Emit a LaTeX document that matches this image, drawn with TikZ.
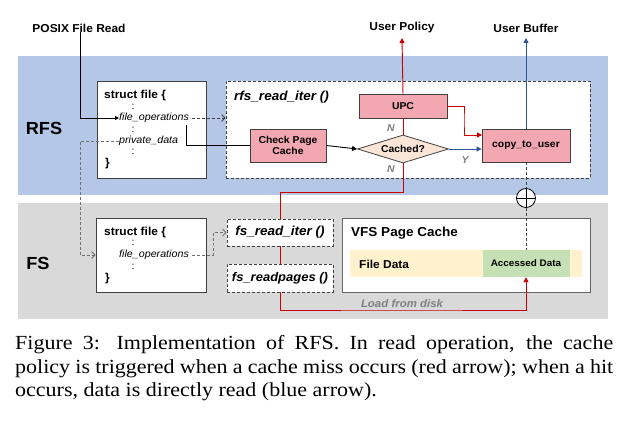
\documentclass[tikz,border=0pt]{standalone}
\usepackage{fontspec}
\setmainfont{Liberation Serif}
\newfontfamily\capfont[FakeStretch=1.1]{Liberation Serif}
\newfontfamily\arialfont[FakeStretch=1.04]{Liberation Sans}
\usetikzlibrary{shapes.geometric,arrows.meta}
\definecolor{rfsblue}{HTML}{B4C7E7}
\definecolor{fsgray}{HTML}{D9D9D9}
\definecolor{pinkbox}{HTML}{F2A7B1}
\definecolor{peach}{HTML}{FBE5D6}
\definecolor{redline}{HTML}{CC0000}
\definecolor{blueline}{HTML}{2F5597}
\definecolor{filedata}{HTML}{FFF2CC}
\definecolor{accgreen}{HTML}{C5E0B4}
\definecolor{lblgray}{HTML}{7F7F7F}
\definecolor{boxline}{HTML}{404040}
\newcommand{\fsz}[1]{\fontsize{#1}{#1}\selectfont}
\newcommand{\capsize}{\fontsize{20}{23.5}\selectfont}
\tikzset{
  band/.style={draw=none, inner sep=0, anchor=north west},
  txt/.style={inner sep=0, font=\arialfont\fsz{10}},
  btxt/.style={inner sep=0, font=\arialfont\bfseries\fsz{10}},
  structbox/.style={draw=boxline, line width=0.8pt, fill=white, inner sep=0},
  dashbox/.style={draw=boxline, line width=0.8pt, dashed, dash pattern=on 3pt off 2pt, fill=white, inner sep=0},
  pinkb/.style={draw=boxline, line width=0.8pt, fill=pinkbox, inner sep=0, align=center, font=\arialfont\bfseries\fsz{10}},
  redarr/.style={draw=redline, line width=0.95pt, -{Triangle[length=5pt,width=5pt]}},
  redln/.style={draw=redline, line width=0.95pt},
  bluearr/.style={draw=blueline, line width=0.95pt, -{Triangle[length=5pt,width=5pt]}},
  blackarr/.style={draw=black, line width=0.9pt, -{Triangle[length=5pt,width=5pt]}},
  dasharr/.style={draw=boxline, line width=0.8pt, dash pattern=on 3pt off 2pt, -{Straight Barb[length=3.5pt,width=7pt]}},
  dashln/.style={draw=boxline, line width=0.8pt, dash pattern=on 3pt off 2pt},
  glabel/.style={inner sep=0, text=lblgray, font=\arialfont\bfseries\itshape\fsz{10}},
}
\begin{document}
\begin{tikzpicture}[x=1pt,y=-1pt]
\useasboundingbox (0,0) rectangle (625,438);
% bands
\node[band, fill=rfsblue, minimum width=590, minimum height=139] (rfsband) at (18,56) {};
\node[band, fill=fsgray, minimum width=590, minimum height=116] (fsband) at (18,203) {};
\node[btxt, font=\arialfont\bfseries\fsz{17.5}] (rfslbl) at (44,128) {RFS};
\node[btxt, font=\arialfont\bfseries\fsz{17.5}] (fslbl) at (38,263) {FS};
% top labels
\node[btxt, font=\arialfont\bfseries\fsz{11.5}] (posix) at (79,28) {POSIX File Read};
\node[btxt, font=\arialfont\bfseries\fsz{11.5}] (upol) at (402,28) {User Policy};
\node[btxt, font=\arialfont\bfseries\fsz{11.5}] (ubuf) at (526,28) {User Buffer};
% RFS struct box
\node[structbox, minimum width=109, minimum height=97] (rfsstruct) at (151.5,129.5) {};
\node[btxt, font=\arialfont\bfseries\fsz{11.5}, anchor=west] (rs1) at (104,96) {struct file \{};
\node[txt] (rs2) at (133,107) {:};
\node[txt, font=\arialfont\itshape\fsz{10.3}, anchor=west] (rfsfo) at (119,118) {file\_operations};
\node[txt] (rs3) at (133,130) {:};
\node[txt, font=\arialfont\itshape\fsz{10.3}, anchor=west] (privd) at (119,141) {private\_data};
\node[txt] (rs4) at (133,152) {:};
\node[btxt, font=\arialfont\bfseries\fsz{11.5}, anchor=west] (rs5) at (105,164) {\}};
% rfs_read_iter box
\node[dashbox, minimum width=364, minimum height=97] (rfsiter) at (408,129.5) {};
\node[btxt, font=\arialfont\bfseries\itshape\fsz{13}, anchor=west] (rfsitert) at (234,97) {rfs\_read\_iter ()};
\node[pinkb, minimum width=76, minimum height=33] (check) at (288,145.5) {Check Page\\[1pt]Cache};
\node[pinkb, minimum width=88, minimum height=24] (upc) at (403,106) {UPC};
\node[draw=boxline, line width=0.8pt, fill=peach, diamond, aspect=3.2, minimum width=91, minimum height=28, inner sep=0, font=\arialfont\bfseries\fsz{10}] (cached) at (403,149) {Cached?};
\node[pinkb, minimum width=88, minimum height=33] (copy) at (526,145.5) {copy\_to\_user};
% FS struct box
\node[structbox, minimum width=110, minimum height=74] (fsstruct) at (151,255) {};
\node[btxt, font=\arialfont\bfseries\fsz{11.5}, anchor=west] (fs1) at (104,233) {struct file \{};
\node[txt] (fs2) at (133,243) {:};
\node[txt, font=\arialfont\itshape\fsz{10.3}, anchor=west] (fsfo) at (119,255) {file\_operations};
\node[txt] (fs3) at (133,267) {:};
\node[btxt, font=\arialfont\bfseries\fsz{11.5}, anchor=west] (fs5) at (105,279) {\}};
% fs boxes
\node[dashbox, minimum width=106, minimum height=27, font=\arialfont\bfseries\itshape\fsz{13}] (fsiter) at (280,232.5) {fs\_read\_iter ()};
\node[dashbox, minimum width=106, minimum height=28, font=\arialfont\bfseries\itshape\fsz{12.5}] (fsread) at (280,278) {fs\_readpages ()};
% VFS page cache
\node[draw=boxline!80, line width=0.8pt, fill=white, minimum width=248, minimum height=74, inner sep=0] (vfs) at (466,255) {};
\node[btxt, font=\arialfont\bfseries\fsz{13}, anchor=west] (vfst) at (351,233) {VFS Page Cache};
\node[fill=filedata, minimum width=232, minimum height=27, inner sep=0] (fdata) at (466,263.5) {};
\node[btxt, font=\arialfont\bfseries\fsz{11.5}, anchor=west] (fdatat) at (359,264) {File Data};
\node[fill=accgreen, minimum width=87, minimum height=27, inner sep=0, font=\arialfont\bfseries\fsz{9.5}] (acc) at (526,263.5) {Accessed Data};
% circle plus
\node[circle, draw=black, line width=0.8pt, fill=white, minimum size=19, inner sep=0,
  path picture={\draw[line width=0.8pt] (path picture bounding box.north) -- (path picture bounding box.south) (path picture bounding box.west) -- (path picture bounding box.east);}] (oplus) at (526,198) {};
% coordinates
\coordinate (foend) at (186,125);
\coordinate (pdcorner) at (80,200);
\coordinate (fscorner) at (213,244);
\coordinate (upccorner) at (464,120);
\coordinate (cpin) at (482,135);
\coordinate (rc) at (280,192);
\coordinate (lc) at (400,310);
% connectors
\draw[line width=0.9pt, -{Triangle[length=4pt,width=4pt]}] (posix.south -| 80,0) |- (rfsfo.west);
\draw[dasharr] (rfsfo.east) ++(3,0) -- (rfsfo.east -| rfsiter.west);
\draw[line width=0.9pt] (foend) |- (check.west);
\draw[dasharr, draw=boxline!75] (privd.west) -| (pdcorner) |- (fsstruct.west);
\draw[blackarr] (check.east) -- (cached.west);
\draw[redln] (cached.north) -- (upc.south);
\draw[redarr] (upc.north) -- (upol.south |- 0,38);
\draw[redarr] (upc.east) -| (upccorner) |- (cpin);
\draw[bluearr] (cached.east) -- (cached.east -| copy.west);
\draw[bluearr] (copy.north) -- (ubuf.south |- 0,38);
\draw[redln] (cached.south) |- (rc) -- (fsiter.north);
\draw[redln] (fsiter.south) -- (fsread.north);
\draw[redarr] (fsread.south) |- (lc) -| (acc.south);
\draw[dashln] (copy.south) -- (oplus.north);
\draw[dashln] (oplus.south) -- (acc.north);
\draw[dasharr, draw=boxline!75] (fsfo.east) ++(3,0) -| (fscorner) |- (fsiter.west);
% labels
\node[glabel] (n1) at (391,128) {N};
\node[glabel] (n2) at (391,169) {N};
\node[glabel] (y1) at (465,160) {Y};
\node[glabel, font=\arialfont\bfseries\itshape\fsz{11}] (ldisk) at (402,304) {Load from disk};
% caption
\node[inner sep=0, anchor=base west, text width=598, align=justify, font=\capfont\capsize] (cap) at (15,350)
 {Figure 3: Implementation of RFS. In read operation, the cache\linebreak policy is triggered when a cache miss occurs (red arrow); when a hit\linebreak occurs, data is directly read (blue arrow).};
\end{tikzpicture}
\end{document}
